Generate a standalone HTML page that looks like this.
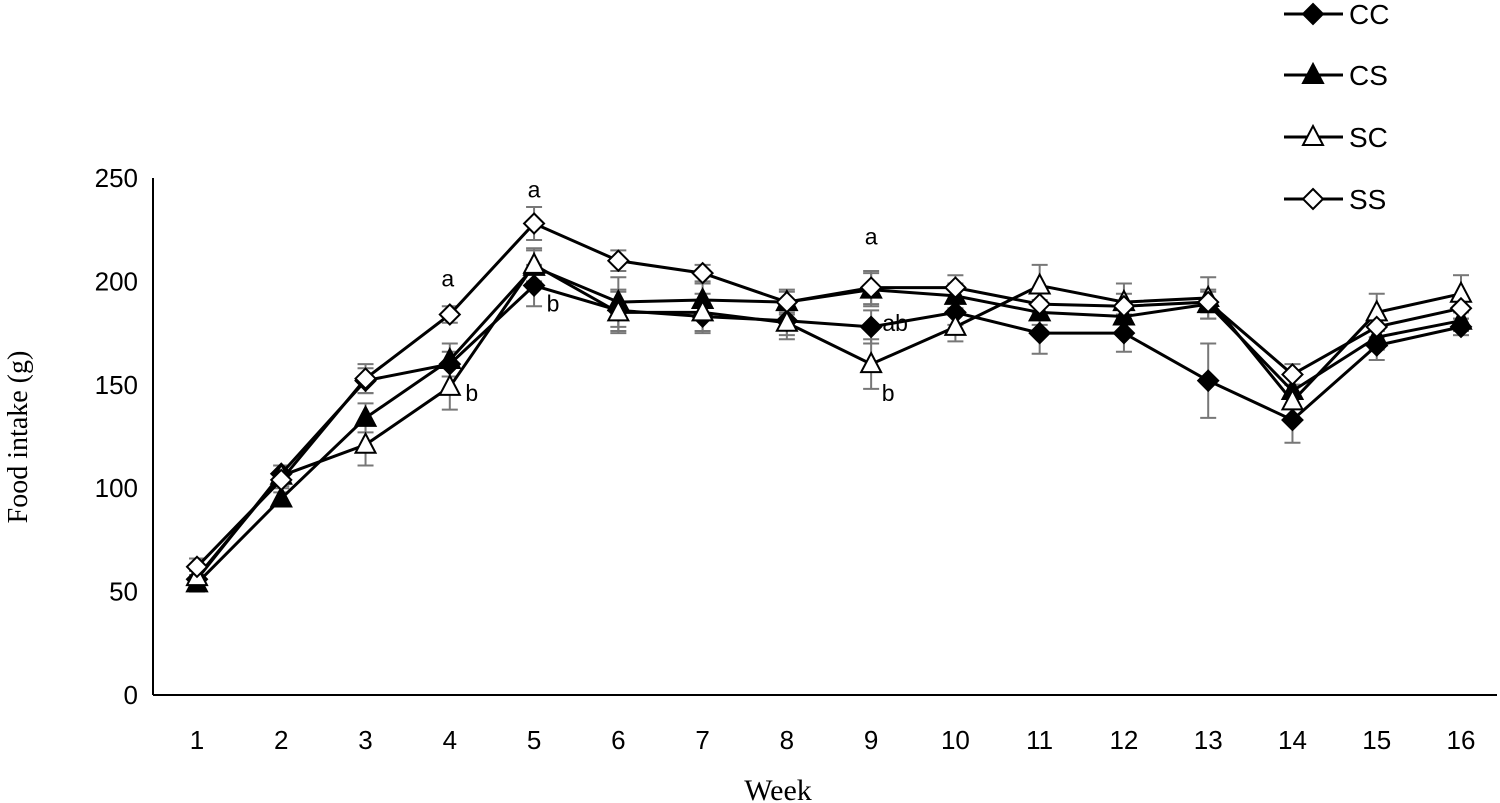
<!DOCTYPE html>
<html><head><meta charset="utf-8"><style>
html,body{margin:0;padding:0;background:#fff;}
svg{display:block;}
</style></head><body>
<svg id="chart" width="1500" height="803" xmlns="http://www.w3.org/2000/svg"></svg>
<script>
const weeks = [1,2,3,4,5,6,7,8,9,10,11,12,13,14,15,16];
const yTicks = [0,50,100,150,200,250];
const ccValues = [56,107,152,160,198,186,183,181,178,185,175,175,152,133,169,178];
const csValues = [54,95,134,162,207,190,191,190,196,193,185,183,189,147,173,181];
const scValues = [57,106,121,149,208,185,185,180,160,178,198,190,192,142,185,194];
const ssValues = [62,104,153,184,228,210,204,190,197,197,189,188,190,155,178,187];
const ccErr = [4,4,6,6,10,10,8,7,8,6,10,9,18,11,7,4];
const csErr = [4,3,7,8,8,12,8,6,8,6,6,7,7,8,6,5];
const scErr = [5,5,10,11,8,10,9,8,12,7,10,9,10,8,9,9];
const ssErr = [4,4,7,4,8,5,4,5,8,6,6,6,5,5,5,5];
const annotations = [{w:4,v:184,t:'a',dx:-2,dy:-28},{w:4,v:149,t:'b',dx:22,dy:14},{w:5,v:228,t:'a',dx:0,dy:-26},{w:5,v:198,t:'b',dx:19,dy:26},{w:9,v:197,t:'a',dx:0,dy:-43},{w:9,v:178,t:'ab',dx:24,dy:4},{w:9,v:160,t:'b',dx:17,dy:37}];

const svg = document.getElementById('chart');
const NS = 'http://www.w3.org/2000/svg';
const x0 = 197, x1 = 1461, yBase = 695, yTop = 178;
const xs = w => x0 + (w-1)*(x1-x0)/15;
const ys = v => yBase - v*(yBase-yTop)/250;
function mk(tag, attrs, parent){const e=document.createElementNS(NS,tag);for(const k in attrs)e.setAttribute(k,attrs[k]);(parent||svg).appendChild(e);return e;}

let ya = mk('line',{x1:153,y1:yTop,x2:153,y2:yBase,stroke:'#000','stroke-width':2});


let xa = mk('line',{x1:153,y1:yBase,x2:1497,y2:yBase,stroke:'#000','stroke-width':2});


yTicks.forEach(t=>{
  const tx = mk('text',{x:138,y:ys(t)+9,'text-anchor':'end','font-family':'Liberation Sans, sans-serif','font-size':26});
  tx.textContent = t;
  
  
});
weeks.forEach(w=>{
  const tx = mk('text',{x:xs(w),y:749,'text-anchor':'middle','font-family':'Liberation Sans, sans-serif','font-size':26});
  tx.textContent = w;
  
  
});
const yt = mk('text',{x:0,y:0,transform:'translate(27,437) rotate(-90)','text-anchor':'middle','font-family':'Liberation Serif, serif','font-size':28});
yt.textContent = 'Food intake (g)';


const xt = mk('text',{x:778,y:800,'text-anchor':'middle','font-family':'Liberation Serif, serif','font-size':30});
xt.textContent = 'Week';



const series = [
  {name:'CC',vals:ccValues,err:ccErr,m:'diamond',fill:'#000'},
  {name:'CS',vals:csValues,err:csErr,m:'triangle',fill:'#000'},
  {name:'SC',vals:scValues,err:scErr,m:'triangle',fill:'#fff'},
  {name:'SS',vals:ssValues,err:ssErr,m:'diamond',fill:'#fff'}
];
function marker(g,m,cx,cy,fill){
  if(m==='diamond') return mk('polygon',{points:`${cx},${cy-10} ${cx+10},${cy} ${cx},${cy+10} ${cx-10},${cy}`,fill:fill,stroke:'#000','stroke-width':2},g);
  return mk('polygon',{points:`${cx},${cy-11} ${cx+10},${cy+8} ${cx-10},${cy+8}`,fill:fill,stroke:'#000','stroke-width':2},g);
}
series.forEach(s=>{
  const g = mk('g',{});
  
  
  s.vals.forEach((v,i)=>{
    const cx=xs(weeks[i]), hi=ys(v+s.err[i]), lo=ys(v-s.err[i]);
    mk('line',{x1:cx,y1:hi,x2:cx,y2:lo,stroke:'#777','stroke-width':2},g);
    mk('line',{x1:cx-8,y1:hi,x2:cx+8,y2:hi,stroke:'#777','stroke-width':2},g);
    mk('line',{x1:cx-8,y1:lo,x2:cx+8,y2:lo,stroke:'#777','stroke-width':2},g);
  });
});
series.forEach(s=>{
  const g = mk('g',{});
  
  
  const pts = s.vals.map((v,i)=>xs(weeks[i])+','+ys(v)).join(' ');
  const pl = mk('polyline',{points:pts,fill:'none',stroke:'#000','stroke-width':3},g);
  
  
  s.vals.forEach((v,i)=>{
    const p = marker(g,s.m,xs(weeks[i]),ys(v),s.fill);
    
    
  });
});
annotations.forEach(a=>{
  const t = mk('text',{x:xs(a.w)+a.dx,y:ys(a.v)+a.dy,'text-anchor':'middle','font-family':'Liberation Sans, sans-serif','font-size':23});
  t.textContent = a.t;
  
  
});
const legY = [14,75,137,199];
series.forEach((s,i)=>{
  const g = mk('g',{});
  
  
  mk('line',{x1:1284,y1:legY[i],x2:1343,y2:legY[i],stroke:'#000','stroke-width':3},g);
  marker(g,s.m,1313,legY[i],s.fill);
  const t = mk('text',{x:1349,y:legY[i]+10,'font-family':'Liberation Sans, sans-serif','font-size':28},g);
  t.textContent = s.name;
});
</script>
</body></html>
